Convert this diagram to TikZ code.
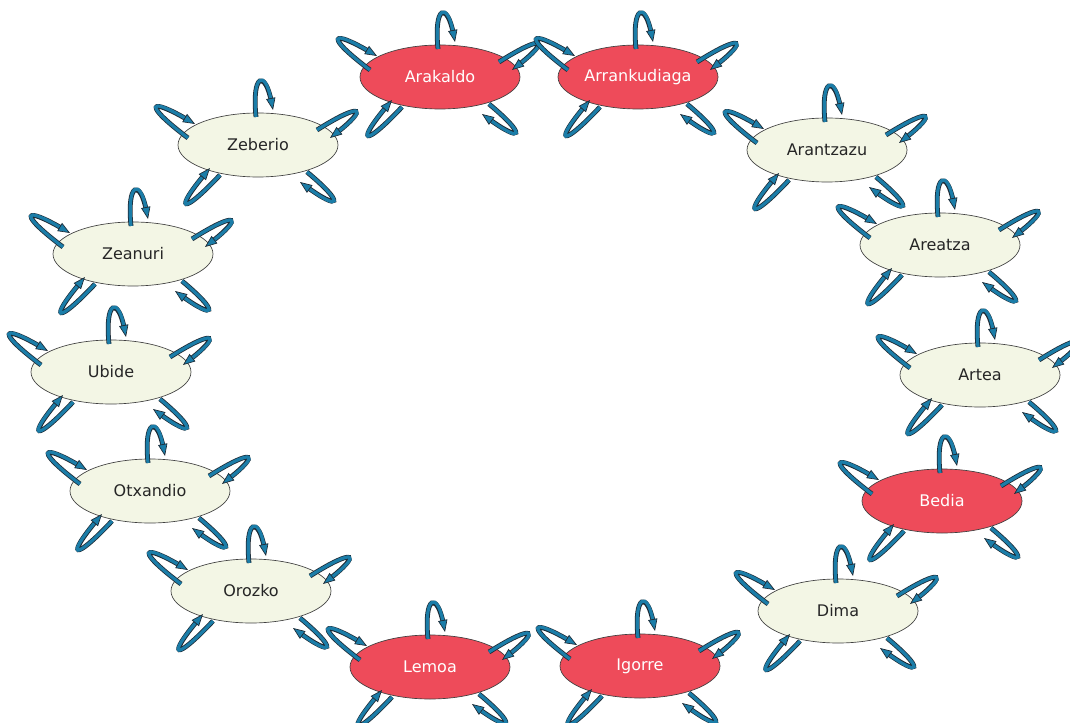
\documentclass[tikz,border=0pt]{standalone}
\usepackage{fontspec}
\setmainfont{DejaVu Sans}
\usepackage{tikz}
\usetikzlibrary{shapes.geometric,arrows.meta}

\definecolor{loopblue}{HTML}{1B7DA8}
\definecolor{loopedge}{HTML}{1E2B36}
\definecolor{townfill}{HTML}{F3F6E5}
\definecolor{townred}{HTML}{EE4B5A}

% five self-loops round one town
\newcommand{\townloops}[1]{%
  \draw[selfloop] ([shift={(-2,28)}]#1.center)
    .. controls +(-4.4,44.5) and +(-7.6,39.5) .. ([shift={(15,35)}]#1.center);
  \draw[selfloop] ([shift={(-70,7)}]#1.center)
    .. controls +(-45,34) and +(-47,27.4) .. ([shift={(-63,21)}]#1.center);
  \draw[selfloop] ([shift={(59,15)}]#1.center)
    .. controls +(46,29) and +(38,29.6) .. ([shift={(72,7)}]#1.center);
  \draw[selfloop] ([shift={(-38,-30)}]#1.center)
    .. controls +(-39,-41.5) and +(-35.7,-42.5) .. ([shift={(-48,-23)}]#1.center);
  \draw[selfloop] ([shift={(49,-27)}]#1.center)
    .. controls +(38.5,-32) and +(40,-29) .. ([shift={(42,-37)}]#1.center);
}

\begin{document}
\begin{tikzpicture}[x=0.75pt, y=0.75pt,
  font=\fontsize{12}{14}\selectfont,
  town/.style   ={ellipse, draw=black!75, line width=0.5pt, fill=townfill,
                  text=black!85, minimum width=120pt, minimum height=48pt,
                  inner sep=0pt},
  hub/.style    ={town, fill=townred, text=white},
  selfloop/.style={draw=loopblue, line width=2.4pt,
                  -{Triangle[length=9pt, width=7pt, color=loopedge,
                             fill=loopblue, line width=0.5pt]},
                  preaction={draw=loopedge, line width=3.6pt, arrows=-,
                             shorten >=6pt}},
]
\useasboundingbox (0,0) rectangle (1070,722);

% === Top ===
\node[hub]  (arakaldo)     at (440,645) {Arakaldo};
\node[hub]  (arrankudiaga) at (638,645) {Arrankudiaga};

% === Left side ===
\node[town] (zeberio)  at (258,577) {Zeberio};
\node[town] (zeanuri)  at (133,468) {Zeanuri};
\node[town] (ubide)    at (111,350) {Ubide};
\node[town] (otxandio) at (150,231) {Otxandio};
\node[town] (orozko)   at (251,131) {Orozko};

% === Right side ===
\node[town] (arantzazu) at (827,572) {Arantzazu};
\node[town] (areatza)   at (940,477) {Areatza};
\node[town] (artea)     at (980,347) {Artea};
\node[hub]  (bedia)     at (942,221) {Bedia};
\node[town] (dima)      at (838,111) {Dima};

% === Bottom ===
\node[hub]  (lemoa)  at (430,55) {Lemoa};
\node[hub]  (igorre) at (640,56) {Igorre};

% === Self-loops ===
\townloops{arakaldo}
\townloops{arrankudiaga}
\townloops{zeberio}
\townloops{zeanuri}
\townloops{ubide}
\townloops{otxandio}
\townloops{orozko}
\townloops{arantzazu}
\townloops{areatza}
\townloops{artea}
\townloops{bedia}
\townloops{dima}
\townloops{lemoa}
\townloops{igorre}

\end{tikzpicture}
\end{document}
